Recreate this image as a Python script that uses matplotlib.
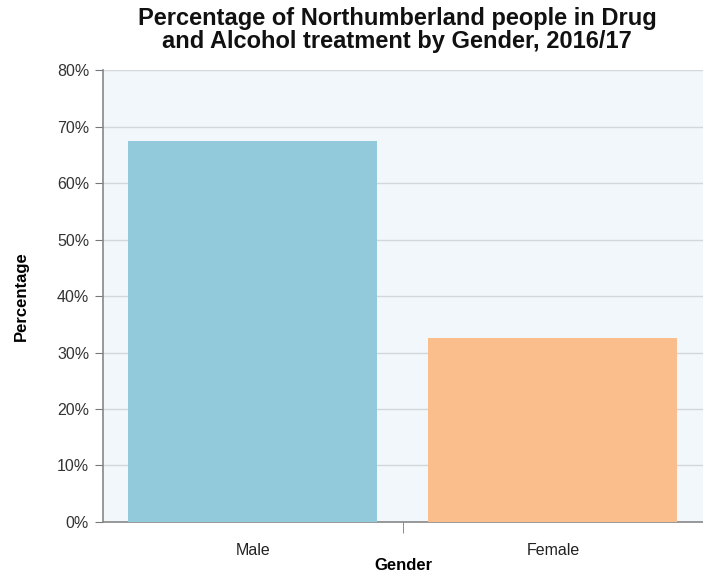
import matplotlib.pyplot as plt
from matplotlib.ticker import FixedLocator, PercentFormatter

# data
genders = ['Male', 'Female']
percentages = [67.5, 32.5]
bar_colours = ['#92CADB', '#F9BE8C']
y_ticks = [0, 10, 20, 30, 40, 50, 60, 70, 80]

plt.rcParams['font.family'] = ['Liberation Sans', 'DejaVu Sans']

fig = plt.figure(figsize=(7.03, 5.74), dpi=100, facecolor='white')
ax = fig.add_axes([0.1465, 0.0906, 0.8535, 0.7874])
ax.set_facecolor('#F1F7FA')

x = range(len(genders))
ax.bar(x, percentages, width=0.83, color=bar_colours, zorder=3)

ax.set_xlim(-0.5, 1.5)
ax.set_ylim(0, 80)
ax.set_yticks(y_ticks)
ax.yaxis.set_major_formatter(PercentFormatter(decimals=0))
ax.grid(axis='y', color='#D3D7DB', linewidth=1, zorder=0)

ax.set_xticks(list(x))
ax.set_xticklabels(genders)
ax.xaxis.set_minor_locator(FixedLocator([0.5]))
ax.tick_params(axis='x', which='major', length=0, pad=15, labelsize=11.5, labelcolor='#222222')
ax.tick_params(axis='x', which='minor', length=8, color='#777777', direction='out')
ax.tick_params(axis='y', length=6, color='#777777', labelsize=11.5, labelcolor='#333333', pad=4)

for side in ['top', 'right']:
    ax.spines[side].set_visible(False)
for side in ['left', 'bottom']:
    ax.spines[side].set_color('#888888')
    ax.spines[side].set_linewidth(1.2)

ax.set_xlabel('Gender', fontsize=12, fontweight='bold', labelpad=0)
ax.set_ylabel('Percentage', fontsize=12, fontweight='bold', labelpad=20)

fig.text(0.565, 0.988, 'Percentage of Northumberland people in Drug\nand Alcohol treatment by Gender, 2016/17',
         ha='center', va='top', fontsize=17, fontweight='bold', linespacing=0.98, color='#111111')

fig.savefig('out.png', dpi=100, facecolor=fig.get_facecolor())
